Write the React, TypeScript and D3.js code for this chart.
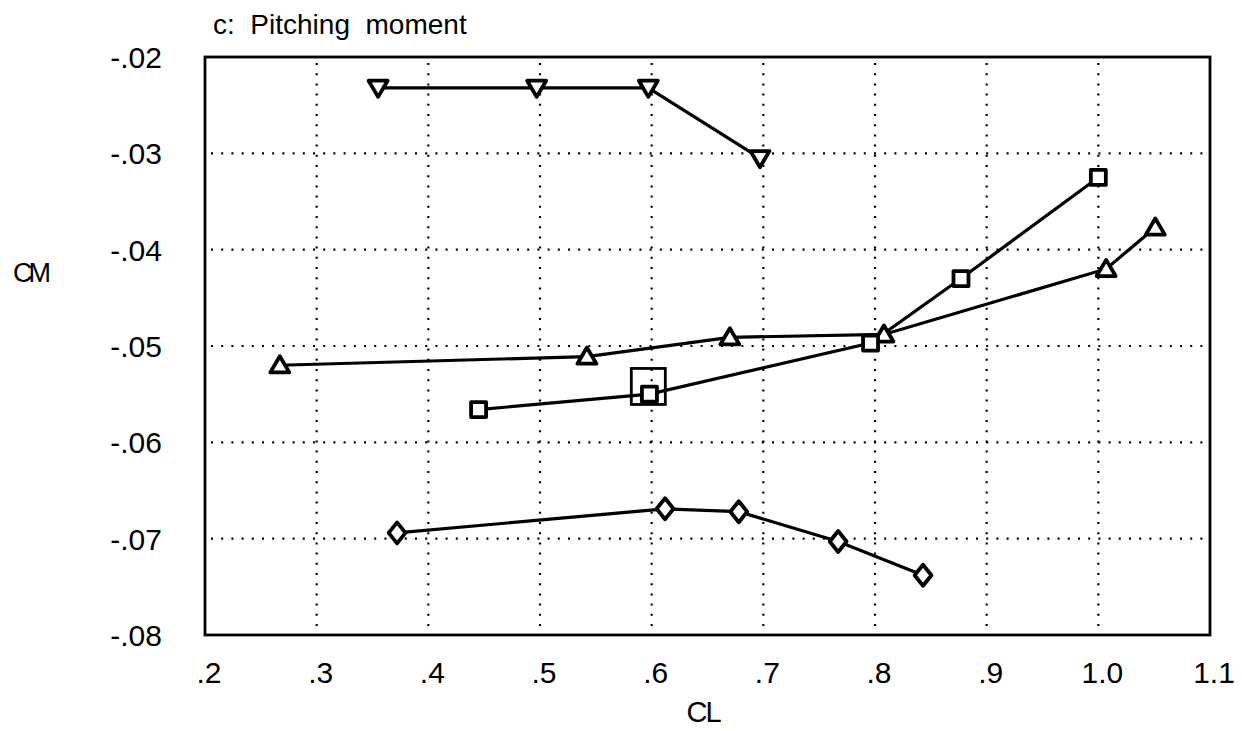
import React, { useEffect, useRef } from "react";
import * as d3 from "d3";

const xTicks = [0.2, 0.3, 0.4, 0.5, 0.6, 0.7, 0.8, 0.9, 1.0, 1.1];
const xTickLabels = [".2", ".3", ".4", ".5", ".6", ".7", ".8", ".9", "1.0", "1.1"];
const yTicks = [-0.02, -0.03, -0.04, -0.05, -0.06, -0.07, -0.08];
const yTickLabels = ["-.02", "-.03", "-.04", "-.05", "-.06", "-.07", "-.08"];

// triangle down series
const downCL = [0.355, 0.497, 0.597, 0.697];
const downCM = [-0.0232, -0.0232, -0.0232, -0.0305];
// triangle up series
const upCL = [0.267, 0.542, 0.67, 0.808, 1.007, 1.051];
const upCM = [-0.052, -0.0511, -0.0491, -0.0488, -0.042, -0.0377];
// square series
const sqCL = [0.445, 0.598, 0.796, 0.877, 1.0];
const sqCM = [-0.0566, -0.055, -0.0497, -0.043, -0.0325];
// diamond series
const diaCL = [0.372, 0.612, 0.678, 0.767, 0.843];
const diaCM = [-0.0694, -0.0669, -0.0672, -0.0703, -0.0738];
// highlighted (large square) point
const bigCL = [0.597];
const bigCM = [-0.0542];

const W = 1242;
const H = 731;
const left = 205;
const right = 1210;
const top = 57;
const bottom = 635;

const shapePath = (kind: string, s: number) => {
  const h = s / 2;
  if (kind === "down") return `M${-h},${-h * 0.75}L${h},${-h * 0.75}L0,${h * 0.95}Z`;
  if (kind === "up") return `M${-h},${h * 0.75}L${h},${h * 0.75}L0,${-h * 0.95}Z`;
  if (kind === "diamond") return `M0,${-h}L${h * 0.8},0L0,${h}L${-h * 0.8},0Z`;
  return `M${-h},${-h}L${h},${-h}L${h},${h}L${-h},${h}Z`;
};

export default function App() {
  const ref = useRef<SVGSVGElement>(null);

  useEffect(() => {
    const svg = d3.select(ref.current);
    svg.selectAll("*").remove();

    const x = d3.scaleLinear().domain([0.2, 1.1]).range([left, right]);
    const y = d3.scaleLinear().domain([-0.08, -0.02]).range([bottom, top]);

    const font = "'Liberation Sans', Arial, sans-serif";

    // title
    svg
      .append("text")
      .attr("x", 213)
      .attr("y", 34)
      .style("font-family", font)
      .style("font-size", "28px")
      .attr("xml:space", "preserve")
      .text("c:  Pitching  moment");

    // dotted grid
    const grid = svg.append("g").attr("stroke", "#000").attr("stroke-width", 2.2).attr("stroke-dasharray", "2,8.2");
    xTicks.slice(1, -1).forEach((t) => {
      grid.append("line").attr("x1", x(t)).attr("x2", x(t)).attr("y1", top + 6).attr("y2", bottom);
    });
    yTicks.slice(1, -1).forEach((t) => {
      grid.append("line").attr("x1", left + 6).attr("x2", right).attr("y1", y(t)).attr("y2", y(t));
    });

    // frame
    svg
      .append("rect")
      .attr("x", left)
      .attr("y", top)
      .attr("width", right - left)
      .attr("height", bottom - top)
      .attr("fill", "none")
      .attr("stroke", "#000")
      .attr("stroke-width", 2.8);

    // tick labels
    svg
      .append("g")
      .selectAll("text")
      .data(xTicks)
      .enter()
      .append("text")
      .attr("x", (d) => x(d) + 4)
      .attr("y", 683)
      .attr("text-anchor", "middle")
      .style("font-family", font)
      .style("font-size", "30px")
      .text((d, i) => xTickLabels[i]);

    svg
      .append("g")
      .selectAll("text")
      .data(yTicks)
      .enter()
      .append("text")
      .attr("x", 162)
      .attr("y", (d) => y(d) + 11)
      .attr("text-anchor", "end")
      .style("font-family", font)
      .style("font-size", "30px")
      .text((d, i) => yTickLabels[i]);

    // axis labels
    svg
      .append("text")
      .attr("x", 703)
      .attr("y", 722)
      .attr("text-anchor", "middle")
      .style("font-family", font)
      .style("font-size", "29px")
      .attr("letter-spacing", "-2")
      .text("CL");

    svg
      .append("text")
      .attr("x", 30)
      .attr("y", 282)
      .attr("text-anchor", "middle")
      .style("font-family", font)
      .style("font-size", "27px")
      .attr("letter-spacing", "-4")
      .text("CM");

    const series = [
      { xs: downCL, ys: downCM, kind: "down", size: 19 },
      { xs: upCL, ys: upCM, kind: "up", size: 19 },
      { xs: sqCL, ys: sqCM, kind: "square", size: 15 },
      { xs: diaCL, ys: diaCM, kind: "diamond", size: 21 },
    ];

    series.forEach((s) => {
      const pts = s.xs.map((v, i) => [x(v), y(s.ys[i])] as [number, number]);
      svg
        .append("path")
        .attr("d", d3.line()(pts))
        .attr("fill", "none")
        .attr("stroke", "#000")
        .attr("stroke-width", 3.2);
    });

    series.forEach((s) => {
      svg
        .append("g")
        .selectAll("path")
        .data(s.xs)
        .enter()
        .append("path")
        .attr("transform", (d, i) => `translate(${x(d)},${y(s.ys[i])})`)
        .attr("d", shapePath(s.kind, s.size))
        .attr("fill", "#fff")
        .attr("stroke", "#000")
        .attr("stroke-width", 3.8)
        .attr("stroke-linejoin", "round");
    });

    svg
      .append("g")
      .selectAll("rect")
      .data(bigCL)
      .enter()
      .append("rect")
      .attr("x", (d) => x(d) - 17)
      .attr("y", (d, i) => y(bigCM[i]) - 18)
      .attr("width", 34)
      .attr("height", 36)
      .attr("fill", "none")
      .attr("stroke", "#000")
      .attr("stroke-width", 2.8);
  }, []);

  return (
    <svg
      ref={ref}
      width={W}
      height={H}
      style={{ position: "absolute", left: 0, top: 0, background: "#fff" }}
    />
  );
}
